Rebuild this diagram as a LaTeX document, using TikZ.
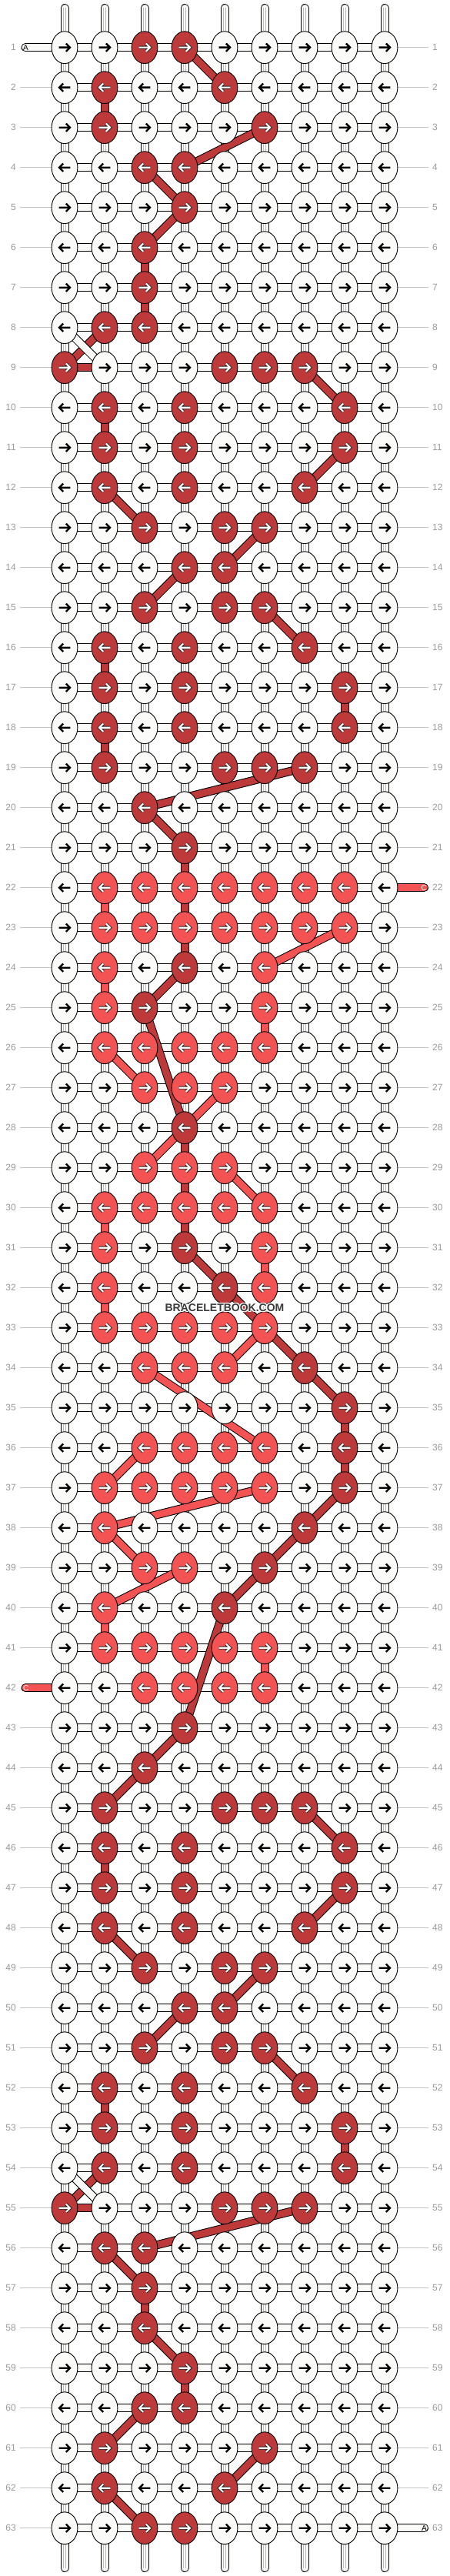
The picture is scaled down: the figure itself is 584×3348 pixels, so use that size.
\documentclass[tikz,border=0pt]{standalone}
\usepackage{fontspec}
\setmainfont{Liberation Sans}
\usetikzlibrary{shapes.geometric}
\definecolor{cW}{HTML}{FAFAF8}
\definecolor{cD}{HTML}{BE3A3A}
\definecolor{cL}{HTML}{F45353}
\definecolor{lblgray}{HTML}{9A9A9A}
\definecolor{linegray}{HTML}{C4C4C4}
\definecolor{tubegray}{HTML}{B8B8B8}
\definecolor{wmgray}{HTML}{3A3A3A}
\pgfdeclarelayer{bg}
\pgfdeclarelayer{mid}
\pgfsetlayers{bg,mid,main}
\tikzset{
 knot/.style={ellipse, draw=black, line width=0.9pt, minimum width=33.8pt, minimum height=41.8pt, inner sep=0pt},
 conout/.style={draw=black, line width=11pt},
 conin/.style={draw=cW, line width=9pt},
 tubeline/.style={draw=tubegray, line width=0.7pt},
 bandout/.style={draw=black, line width=11pt},
 bandin/.style={line width=9pt},
 gline/.style={draw=linegray, line width=1pt},
 lbl/.style={text=lblgray, inner sep=0pt, font=\fontsize{12}{12}\selectfont},
 endlbl/.style={inner sep=0pt, font=\fontsize{10}{10}\selectfont},
 arrblack/.style={draw=black, line width=2.4pt, line join=miter},
 arrwout/.style={draw=black!85, line width=4pt, line join=miter},
 arrwin/.style={draw=white, line width=2.1pt, line join=miter},
 wm/.style={inner sep=0pt, font=\fontsize{14}{14}\selectfont\bfseries},
}
\def\arrpath{(-7.3,0) -- (6.3,0) (1.8,-5.2) -- (7,0) -- (1.8,5.2)}
\begin{document}
\begin{tikzpicture}[x=1pt,y=-1pt]
\useasboundingbox (0,0) rectangle (584,3348);
% knots
\foreach \rowcols [count=\r] in {
{W,W,D,D,W,W,W,W,W},{W,D,W,W,D,W,W,W,W},{W,D,W,W,W,D,W,W,W},{W,W,D,D,W,W,W,W,W},
{W,W,W,D,W,W,W,W,W},{W,W,D,W,W,W,W,W,W},{W,W,D,W,W,W,W,W,W},{W,D,D,W,W,W,W,W,W},
{D,W,W,W,D,D,D,W,W},{W,D,W,D,W,W,W,D,W},{W,D,W,D,W,W,W,D,W},{W,D,W,D,W,W,D,W,W},
{W,W,D,W,D,D,W,W,W},{W,W,W,D,D,W,W,W,W},{W,W,D,W,D,D,W,W,W},{W,D,W,D,W,W,D,W,W},
{W,D,W,D,W,W,W,D,W},{W,D,W,D,W,W,W,D,W},{W,D,W,W,D,D,D,W,W},{W,W,D,W,W,W,W,W,W},
{W,W,W,D,W,W,W,W,W},{W,L,L,L,L,L,L,L,W},{W,L,L,L,L,L,L,L,W},{W,L,W,D,W,L,W,W,W},
{W,L,D,W,W,L,W,W,W},{W,L,L,L,L,L,W,W,W},{W,W,L,L,L,W,W,W,W},{W,W,W,D,W,W,W,W,W},
{W,W,L,L,L,W,W,W,W},{W,L,L,L,L,L,W,W,W},{W,L,W,D,W,L,W,W,W},{W,L,W,W,D,L,W,W,W},
{W,L,L,L,L,L,W,W,W},{W,W,L,L,L,W,D,W,W},{W,W,W,W,W,W,W,D,W},{W,W,L,L,L,L,W,D,W},
{W,L,L,L,L,L,W,D,W},{W,L,W,W,W,W,D,W,W},{W,W,L,L,W,D,W,W,W},{W,L,W,W,D,W,W,W,W},
{W,L,L,L,L,L,W,W,W},{W,W,L,L,L,L,W,W,W},{W,W,W,D,W,W,W,W,W},{W,W,D,W,W,W,W,W,W},
{W,D,W,W,D,D,D,W,W},{W,D,W,D,W,W,W,D,W},{W,D,W,D,W,W,W,D,W},{W,D,W,D,W,W,D,W,W},
{W,W,D,W,D,D,W,W,W},{W,W,W,D,D,W,W,W,W},{W,W,D,W,D,D,W,W,W},{W,D,W,D,W,W,D,W,W},
{W,D,W,D,W,W,W,D,W},{W,D,W,D,W,W,W,D,W},{D,W,W,W,D,D,D,W,W},{W,D,D,W,W,W,W,W,W},
{W,W,D,W,W,W,W,W,W},{W,W,D,W,W,W,W,W,W},{W,W,W,D,W,W,W,W,W},{W,W,D,D,W,W,W,W,W},
{W,D,W,W,W,D,W,W,W},{W,D,W,W,D,W,W,W,W},{W,W,D,D,W,W,W,W,W}} {
  \foreach \k [count=\c] in \rowcols {
    \node[knot, fill=c\k] (k-\r-\c) at ({32+52*\c},{9.7+52*\r}) {};
    \ifodd\r\relax\def\dir{1}\else\def\dir{-1}\fi
    \begin{scope}[shift={(k-\r-\c.center)}, xscale=\dir]
      \if\k W\relax
        \draw[arrblack] \arrpath;
      \else
        \draw[arrwout] \arrpath;
        \draw[arrwin] \arrpath;
      \fi
    \end{scope}
  }
}
% connectors
\begin{pgfonlayer}{bg}
\fill[white] (0,0) rectangle (584,3348);
\foreach \r in {1,...,63} {
  \foreach \c [evaluate=\c as \cn using int(\c+1)] in {1,...,8} {
    \draw[conout] (k-\r-\c.center) -- (k-\r-\cn.center);
    \draw[conin] (k-\r-\c.center) -- (k-\r-\cn.center);
  }
}
\foreach \r [evaluate=\r as \rn using int(\r+1)] in {1,...,62} {
  \foreach \c in {1,...,9} {
    \draw[conout] (k-\r-\c.center) -- (k-\rn-\c.center);
    \draw[conin] (k-\r-\c.center) -- (k-\rn-\c.center);
    \draw[tubeline] ([xshift=-1.8pt]k-\r-\c.center) -- ([xshift=-1.8pt]k-\rn-\c.center);
    \draw[tubeline] ([xshift=1.8pt]k-\r-\c.center) -- ([xshift=1.8pt]k-\rn-\c.center);
  }
}
\foreach \c in {1,...,9} {
  \coordinate (top-\c) at ({32+52*\c},10.5);
  \coordinate (bot-\c) at ({32+52*\c},3337.5);
  \draw[conout, line cap=round] (top-\c) -- (k-1-\c.center);
  \draw[conin, line cap=round] (top-\c) -- (k-1-\c.center);
  \draw[tubeline] ([xshift=-1.8pt]top-\c) -- ([xshift=-1.8pt]k-1-\c.center);
  \draw[tubeline] ([xshift=1.8pt]top-\c) -- ([xshift=1.8pt]k-1-\c.center);
  \draw[conout, line cap=round] (bot-\c) -- (k-63-\c.center);
  \draw[conin, line cap=round] (bot-\c) -- (k-63-\c.center);
  \draw[tubeline] ([xshift=-1.8pt]bot-\c) -- ([xshift=-1.8pt]k-63-\c.center);
  \draw[tubeline] ([xshift=1.8pt]bot-\c) -- ([xshift=1.8pt]k-63-\c.center);
}
% end strings
\coordinate (endA1) at (33,61.7);
\coordinate (endA2) at (551.5,3285.7);
\coordinate (endC1) at (551.5,1153.7);
\coordinate (endC2) at (33,2193.7);
\draw[conout, line cap=round] (endA1) -- (k-1-1.center);
\draw[conin, line cap=round] (endA1) -- (k-1-1.center);
\draw[conout, line cap=round] (endA2) -- (k-63-9.center);
\draw[conin, line cap=round] (endA2) -- (k-63-9.center);
\draw[conout, line cap=round] (endC1) -- (k-22-9.center);
\draw[conin, draw=cL, line cap=round] (endC1) -- (k-22-9.center);
\draw[conout, line cap=round] (endC2) -- (k-42-1.center);
\draw[conin, draw=cL, line cap=round] (endC2) -- (k-42-1.center);
% row label lines
\foreach \r in {1,...,63} {
  \coordinate (lg-\r) at (26,{9.7+52*\r});
  \coordinate (rg-\r) at (557,{9.7+52*\r});
  \ifnum\r=1\relax\else\ifnum\r=42\relax\else
    \draw[gline] (lg-\r) -- (k-\r-1);
  \fi\fi
  \ifnum\r=22\relax\else\ifnum\r=63\relax\else
    \draw[gline] (rg-\r) -- (k-\r-9);
  \fi\fi
}
\end{pgfonlayer}
% colour paths
\begin{pgfonlayer}{mid}
\foreach \ra/\ca/\rb/\cb/\col in {
1/4/2/5/cD, 2/2/3/2/cD, 3/6/4/4/cD, 4/3/5/4/cD, 5/4/6/3/cD, 6/3/7/3/cD, 7/3/8/3/cD,
8/2/9/1/cD, 8/1/9/2/cW, 9/1/9/2/cD, 9/7/10/8/cD, 10/2/11/2/cD, 11/8/12/7/cD, 12/2/13/3/cD,
13/6/14/5/cD, 14/4/15/3/cD, 15/6/16/7/cD, 16/2/17/2/cD, 17/8/18/8/cD, 18/2/19/2/cD,
19/7/20/3/cD, 20/3/21/4/cD, 21/4/22/4/cD, 22/4/23/4/cD, 23/4/24/4/cD, 24/4/25/3/cD,
25/3/28/4/cD, 28/4/29/4/cD, 29/4/30/4/cD, 30/4/31/4/cD, 31/4/32/5/cD, 32/5/34/7/cD,
34/7/35/8/cD, 35/8/36/8/cD, 36/8/37/8/cD, 37/8/38/7/cD, 38/7/39/6/cD, 39/6/40/5/cD,
40/5/43/4/cD, 43/4/44/3/cD, 44/3/45/2/cD, 45/7/46/8/cD, 46/2/47/2/cD, 47/8/48/7/cD,
48/2/49/3/cD, 49/6/50/5/cD, 50/4/51/3/cD, 51/6/52/7/cD, 52/2/53/2/cD, 53/8/54/8/cD,
54/2/55/1/cD, 54/1/55/2/cW, 55/1/55/2/cD, 55/7/56/3/cD, 56/2/57/3/cD, 57/3/58/3/cD,
58/3/59/4/cD, 59/4/60/4/cD, 60/3/61/2/cD, 61/6/62/5/cD, 62/2/63/3/cD,
22/2/23/2/cL, 23/8/24/6/cL, 24/2/25/2/cL, 25/6/26/6/cL, 26/2/27/3/cL, 27/5/29/3/cL,
29/5/30/6/cL, 30/2/31/2/cL, 31/6/32/6/cL, 32/2/33/2/cL, 33/6/34/5/cL, 34/3/36/6/cL,
36/3/37/2/cL, 37/6/38/2/cL, 38/2/39/3/cL, 39/4/40/2/cL, 40/2/41/2/cL, 41/6/42/6/cL} {
  \draw[bandout] (k-\ra-\ca.center) -- (k-\rb-\cb.center);
  \draw[bandin, draw=\col] (k-\ra-\ca.center) -- (k-\rb-\cb.center);
}
\end{pgfonlayer}
% row numbers
\foreach \r in {1,...,63} {
  \node[lbl, anchor=east] (ll-\r) at (21,{9.7+52*\r}) {\r};
  \node[lbl, anchor=west] (rl-\r) at (562,{9.7+52*\r}) {\r};
}
\node[endlbl, anchor=west] (tA1) at (30,61.7) {A};
\node[endlbl, anchor=east] (tA2) at (555,3285.7) {A};
\node[endlbl, anchor=east, text=white] (tC1) at (555,1153.7) {C};
\node[endlbl, anchor=west, text=white] (tC2) at (30,2193.7) {C};
% watermark
\foreach \dx/\dy [count=\i] in {-1/0,1/0,0/-1,0/1,-1/-1,1/1,-1/1,1/-1} {
  \node[wm, text=white] (wmh-\i) at ({292+\dx},{1700+\dy}) {BRACELETBOOK.COM};
}
\node[wm, text=wmgray] (wm) at (292,1700) {BRACELETBOOK.COM};
\end{tikzpicture}
\end{document}
